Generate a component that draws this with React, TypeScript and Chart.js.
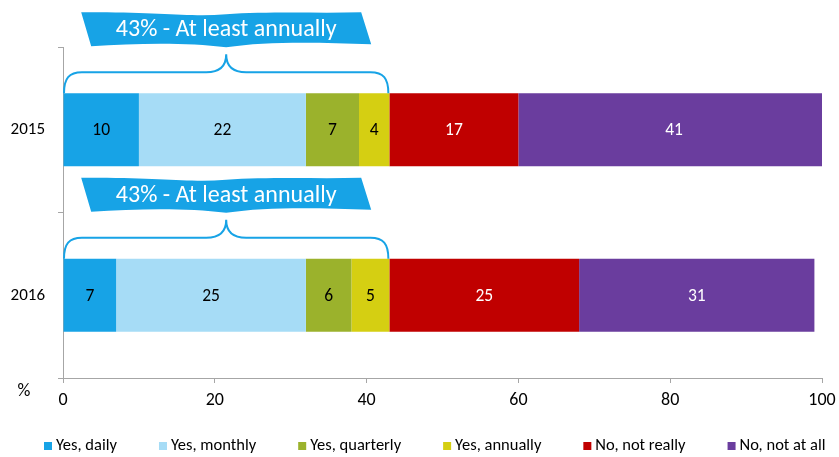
import React, { useEffect, useRef } from "react";
import { Chart, registerables } from "chart.js";

Chart.register(...registerables);

const categories = ["2015", "2016"];
const seriesNames = ["Yes, daily", "Yes, monthly", "Yes, quarterly", "Yes, annually", "No, not really", "No, not at all"];
const seriesColors = ["#17A3E6", "#A6DCF6", "#9BB22C", "#D5CF12", "#C00000", "#6A3D9E"];
const labelColors = ["#000000", "#000000", "#000000", "#000000", "#FFFFFF", "#FFFFFF"];
const yesDaily = [10, 7];
const yesMonthly = [22, 25];
const yesQuarterly = [7, 6];
const yesAnnually = [4, 5];
const noNotReally = [17, 25];
const noNotAtAll = [41, 31];
const seriesValues = [yesDaily, yesMonthly, yesQuarterly, yesAnnually, noNotReally, noNotAtAll];
const bannerTexts = ["43% - At least annually", "43% - At least annually"];
const bracedSeriesCount = 4;
const xTicks = [0, 20, 40, 60, 80, 100];
const unitLabel = "%";

const FONT = "Carlito, Calibri, Lato, 'Open Sans', sans-serif";
const BLUE = "#17A3E6";

const overlayPlugin = {
  id: "overlay",
  afterDatasetsDraw(chart: any) {
    const ctx = chart.ctx;
    const xs = chart.scales.x;
    // data labels
    chart.data.datasets.forEach((ds: any, di: number) => {
      const meta = chart.getDatasetMeta(di);
      meta.data.forEach((bar: any, i: number) => {
        ctx.save();
        ctx.font = `17.5px ${FONT}`;
        ctx.fillStyle = labelColors[di];
        ctx.textAlign = "center";
        ctx.textBaseline = "middle";
        ctx.fillText(String(ds.data[i]), (bar.x + bar.base) / 2, bar.y + 1);
        ctx.restore();
      });
    });
    // braces and banners
    categories.forEach((_, i) => {
      const bar0 = chart.getDatasetMeta(0).data[i];
      const top = bar0.y - bar0.height / 2;
      let sum = 0;
      for (let k = 0; k < bracedSeriesCount; k++) sum += seriesValues[k][i];
      const x0 = xs.getPixelForValue(0) + 1;
      const x1 = xs.getPixelForValue(sum) - 1;
      const mid = (x0 + x1) / 2;
      const hy = top - 21;
      const ay = top - 39;
      ctx.save();
      ctx.strokeStyle = BLUE;
      ctx.lineWidth = 2;
      ctx.beginPath();
      ctx.moveTo(x0, top);
      ctx.bezierCurveTo(x0, top - 15, x0 + 5, hy, x0 + 18, hy);
      ctx.lineTo(mid - 20, hy);
      ctx.bezierCurveTo(mid - 6, hy, mid, hy - 6, mid, ay);
      ctx.bezierCurveTo(mid, hy - 6, mid + 6, hy, mid + 20, hy);
      ctx.lineTo(x1 - 18, hy);
      ctx.bezierCurveTo(x1 - 5, hy, x1, top - 15, x1, top);
      ctx.stroke();

      // banner
      const T = top - 81;
      const B = top - 47;
      const cx = mid;
      ctx.fillStyle = BLUE;
      ctx.beginPath();
      ctx.moveTo(cx - 145, T);
      ctx.bezierCurveTo(cx - 70, T - 1, cx - 40, T + 5, cx, T + 2);
      ctx.bezierCurveTo(cx + 40, T - 1, cx + 90, T + 1, cx + 135, T);
      ctx.lineTo(cx + 145, B - 2);
      ctx.bezierCurveTo(cx + 90, B - 4, cx + 40, B - 5, cx, B + 1);
      ctx.bezierCurveTo(cx - 40, B - 4, cx - 90, B - 3, cx - 135, B);
      ctx.closePath();
      ctx.fill();
      ctx.fillStyle = "#FFFFFF";
      ctx.font = `24px ${FONT}`;
      ctx.textAlign = "center";
      ctx.textBaseline = "middle";
      ctx.fillText(bannerTexts[i], cx, (T + B) / 2 + 1);
      ctx.restore();
    });

    // unit label
    ctx.save();
    ctx.font = `18px ${FONT}`;
    ctx.fillStyle = "#000";
    ctx.textAlign = "center";
    ctx.textBaseline = "middle";
    ctx.fillText(unitLabel, 24, 391);
    ctx.restore();

    // legend
    ctx.save();
    ctx.font = `16.5px ${FONT}`;
    ctx.textBaseline = "middle";
    ctx.textAlign = "left";
    let x = 44;
    const ly = 446;
    chart.data.datasets.forEach((ds: any) => {
      ctx.fillStyle = ds.backgroundColor;
      ctx.fillRect(x, ly - 4, 8, 8);
      ctx.fillStyle = "#000";
      ctx.fillText(ds.label, x + 12, ly);
      x += 12 + ctx.measureText(ds.label).width + 42;
    });
    ctx.restore();
  },
};

export default function App() {
  const ref = useRef<HTMLCanvasElement | null>(null);
  useEffect(() => {
    if (!ref.current) return;
    const chart = new Chart(ref.current, {
      type: "bar",
      data: {
        labels: categories,
        datasets: seriesNames.map((name, i) => ({
          label: name,
          data: seriesValues[i],
          backgroundColor: seriesColors[i],
          borderWidth: 0,
          barPercentage: 0.88,
          categoryPercentage: 0.5,
        })),
      },
      options: {
        indexAxis: "y",
        animation: false,
        responsive: true,
        maintainAspectRatio: false,
        layout: { padding: { top: 47, right: 17, bottom: 0, left: 0 } },
        plugins: { legend: { display: false }, tooltip: { enabled: false } },
        scales: {
          x: {
            stacked: true,
            min: 0,
            max: 100,
            afterBuildTicks: (scale: any) => {
              scale.ticks = xTicks.map((v) => ({ value: v }));
            },
            afterFit: (scale: any) => {
              scale.height = 79;
              scale.paddingRight = 0;
              scale.paddingLeft = 0;
            },
            grid: { drawOnChartArea: false, tickLength: 5, color: "#A6A6A6" },
            border: { color: "#A6A6A6" },
            ticks: { padding: 7, color: "#000", font: { family: FONT, size: 18 } },
          },
          y: {
            stacked: true,
            afterFit: (scale: any) => {
              scale.width = 63;
              scale.paddingTop = 0;
              scale.paddingBottom = 0;
            },
            grid: { drawOnChartArea: false, offset: true, tickLength: 5, color: "#A6A6A6" },
            border: { color: "#A6A6A6" },
            ticks: { padding: 13, color: "#000", font: { family: FONT, size: 17 } },
          },
        },
      },
      plugins: [overlayPlugin],
    });
    return () => chart.destroy();
  }, []);
  return (
    <div style={{ position: "fixed", left: 0, top: 0, width: 839, height: 457 }}>
      <canvas ref={ref} />
    </div>
  );
}
